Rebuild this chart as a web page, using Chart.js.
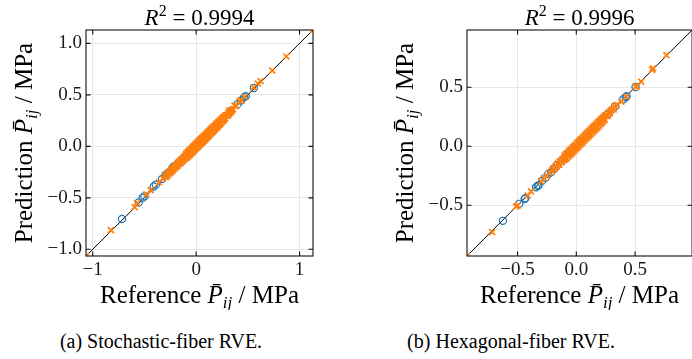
<!DOCTYPE html>
<html><head><meta charset="utf-8">
<script src="https://cdn.jsdelivr.net/npm/chart.js@4"></script>
<style>
html,body{margin:0;padding:0;background:#fff;overflow:hidden;width:692px;height:359px;}
#wrapA{position:absolute;left:0;top:0;width:346px;height:310px;}
#wrapB{position:absolute;left:346px;top:0;width:352px;height:310px;}
.cap{position:absolute;top:331px;font-family:'Liberation Serif',serif;font-size:20px;line-height:20px;white-space:nowrap;transform:translateX(-50%);color:#000;}
</style></head><body>
<div id="wrapA"><canvas id="cA" width="346" height="310"></canvas></div>
<div id="wrapB"><canvas id="cB" width="352" height="310"></canvas></div>
<div class="cap" style="left:161px">(a) Stochastic-fiber RVE.</div>
<div class="cap" style="left:511px">(b) Hexagonal-fiber RVE.</div>
<script>
// ---------- data: (a) Stochastic-fiber RVE ----------
const titleA = '0.9994';
const limA = [-1.065, 1.13];
const ticksAX = [-1, 0, 1];
const tickLabelsAX = ['\u22121', '0', '1'];
const ticksAY = [-1.0, -0.5, 0.0, 0.5, 1.0];
const tickLabelsAY = ['\u22121.0', '\u22120.5', '0.0', '0.5', '1.0'];

const refA_blue  = [-0.717,-0.556,-0.517,-0.500,-0.410,-0.390,-0.330,-0.297,-0.275,-0.249,-0.230,-0.217,-0.180,-0.150,-0.110,-0.060,-0.020,0.030,0.080,0.140,0.200,0.260,0.330,0.400,0.436,0.465,0.480,0.558];
const predA_blue = [-0.705,-0.545,-0.500,-0.485,-0.390,-0.372,-0.318,-0.278,-0.262,-0.240,-0.212,-0.196,-0.172,-0.140,-0.104,-0.052,-0.014,0.036,0.085,0.146,0.206,0.268,0.338,0.410,0.445,0.478,0.486,0.566];

const refA_orange_main  = [-1.065,-0.824,-0.595,-0.572,-0.480,-0.440,-0.360,-0.320,-0.285,-0.262,-0.240,-0.222,-0.205,-0.190,-0.175,
  -0.160,-0.150,-0.142,-0.130,-0.122,-0.110,-0.100,-0.092,-0.080,-0.072,-0.062,-0.055,-0.045,-0.038,-0.028,-0.020,-0.012,-0.005,
  0.004,0.010,0.018,0.025,0.033,0.040,0.048,0.055,0.062,0.070,0.078,0.085,0.092,0.100,0.108,0.115,0.122,0.130,0.138,0.145,
  0.152,0.160,0.168,0.175,0.182,0.190,0.198,0.205,0.214,0.222,0.232,0.240,0.250,0.260,0.270,0.280,0.292,0.305,0.318,0.323,
  0.340,0.371,0.385,0.420,0.440,0.468,0.555,0.597,0.623,0.736,0.872,1.13];
const predA_orange_main = [-1.065,-0.814,-0.590,-0.550,-0.467,-0.425,-0.350,-0.312,-0.270,-0.255,-0.228,-0.218,-0.190,-0.185,-0.160,
  -0.152,-0.158,-0.128,-0.135,-0.110,-0.118,-0.088,-0.100,-0.068,-0.080,-0.050,-0.064,-0.030,-0.046,-0.014,-0.030,0.002,-0.015,
  0.018,-0.004,0.032,0.010,0.046,0.026,0.060,0.040,0.075,0.055,0.090,0.070,0.104,0.086,0.120,0.100,0.134,0.116,0.148,0.132,
  0.162,0.146,0.178,0.162,0.192,0.178,0.206,0.194,0.222,0.212,0.240,0.230,0.258,0.250,0.278,0.272,0.300,0.300,0.330,0.350,
  0.345,0.395,0.390,0.440,0.448,0.480,0.572,0.610,0.634,0.735,0.873,1.13];
const refA_orange_hi  = [-0.098,-0.086,-0.074,-0.062,-0.050,-0.038,-0.026,-0.014,-0.002,0.010,0.022,0.034,0.046,0.058,0.070,0.082,0.094,0.106,0.118,0.130,0.142,0.154,0.166,0.178,0.190,0.202,0.214,0.226,0.238,0.250,0.262,0.274,0.286];
const predA_orange_hi = [-0.073,-0.060,-0.049,-0.036,-0.027,-0.013,0.000,0.011,0.024,0.034,0.048,0.058,0.072,0.082,0.096,0.105,0.119,0.130,0.143,0.153,0.167,0.177,0.190,0.200,0.213,0.224,0.236,0.246,0.259,0.270,0.281,0.292,0.303];
const refA_orange_lo  = [-0.092,-0.080,-0.068,-0.056,-0.044,-0.032,-0.020,-0.008,0.004,0.016,0.028,0.040,0.052,0.064,0.076,0.088,0.100,0.112,0.124,0.136,0.148,0.160,0.172,0.184,0.196,0.208,0.220,0.232,0.244,0.256,0.268,0.280];
const predA_orange_lo = [-0.112,-0.101,-0.088,-0.078,-0.064,-0.053,-0.040,-0.029,-0.016,-0.005,0.008,0.019,0.032,0.043,0.056,0.067,0.080,0.092,0.105,0.117,0.130,0.142,0.155,0.167,0.180,0.192,0.205,0.218,0.231,0.244,0.257,0.270];
const refA_orange_tails  = [-0.300,-0.292,-0.284,-0.276,-0.268,-0.258,-0.250,-0.244,-0.236,-0.228,-0.220,-0.212,-0.204,-0.196,-0.188,-0.180,-0.172,-0.166,-0.158,-0.150,-0.144,-0.136,-0.128,-0.120,-0.112,-0.106,
  0.296,0.304,0.312,0.318,0.328,0.334,0.346,0.358];
const predA_orange_tails = [-0.292,-0.300,-0.278,-0.282,-0.258,-0.264,-0.240,-0.250,-0.226,-0.236,-0.210,-0.220,-0.196,-0.204,-0.178,-0.190,-0.162,-0.174,-0.146,-0.162,-0.134,-0.146,-0.116,-0.132,-0.100,-0.118,
  0.306,0.296,0.322,0.312,0.338,0.330,0.352,0.362];

// ---------- data: (b) Hexagonal-fiber RVE ----------
const titleB = '0.9996';
const limB = [-0.93, 0.985];
const ticksBX = [-0.5, 0.0, 0.5];
const tickLabelsBX = ['\u22120.5', '0.0', '0.5'];
const ticksBY = [-0.5, 0.0, 0.5];
const tickLabelsBY = ['\u22120.5', '0.0', '0.5'];

const refB_blue  = [-0.625,-0.485,-0.440,-0.434,-0.343,-0.330,-0.320,-0.290,-0.262,-0.240,-0.215,-0.190,-0.160,-0.110,-0.060,-0.010,0.040,0.090,0.150,0.210,0.270,0.330,0.400,0.420,0.428,0.504];
const predB_blue = [-0.632,-0.488,-0.448,-0.440,-0.347,-0.336,-0.330,-0.292,-0.268,-0.236,-0.220,-0.192,-0.158,-0.112,-0.056,-0.008,0.044,0.092,0.154,0.214,0.276,0.336,0.398,0.415,0.424,0.502];

const refB_orange_main  = [-0.930,-0.716,-0.513,-0.500,-0.414,-0.386,-0.300,-0.275,-0.250,-0.228,-0.208,-0.190,-0.175,
  -0.160,-0.150,-0.140,-0.130,-0.120,-0.110,-0.100,-0.090,-0.080,-0.070,-0.060,-0.050,-0.040,-0.030,-0.020,-0.010,
  0.000,0.010,0.020,0.030,0.040,0.050,0.060,0.070,0.080,0.090,0.100,0.110,0.120,0.130,0.140,0.150,0.160,0.170,0.180,0.190,
  0.200,0.212,0.224,0.236,0.250,0.265,0.280,0.298,0.326,0.345,0.383,0.425,0.504,0.515,0.552,0.645,0.652,0.766];
const predB_orange_main = [-0.930,-0.728,-0.511,-0.504,-0.417,-0.383,-0.298,-0.270,-0.252,-0.224,-0.206,-0.186,-0.172,
  -0.150,-0.158,-0.130,-0.136,-0.110,-0.116,-0.090,-0.096,-0.070,-0.078,-0.050,-0.058,-0.030,-0.038,-0.010,-0.018,
  0.010,0.002,0.030,0.022,0.050,0.042,0.070,0.062,0.090,0.082,0.110,0.102,0.128,0.122,0.148,0.142,0.168,0.162,0.188,0.184,
  0.206,0.208,0.230,0.234,0.256,0.262,0.286,0.307,0.340,0.350,0.377,0.420,0.505,0.508,0.548,0.647,0.660,0.772];
const refB_orange_hi  = [-0.100,-0.088,-0.076,-0.064,-0.052,-0.040,-0.028,-0.016,-0.004,0.008,0.020,0.032,0.044,0.056,0.068,0.080,0.092,0.104,0.116,0.128,0.140,0.152,0.164,0.176,0.188,0.200,0.212,0.224,0.236,0.248];
const predB_orange_hi = [-0.080,-0.067,-0.057,-0.044,-0.033,-0.020,-0.009,0.004,0.015,0.028,0.039,0.052,0.063,0.076,0.087,0.100,0.111,0.124,0.135,0.148,0.159,0.171,0.182,0.195,0.206,0.218,0.229,0.241,0.252,0.263];
const refB_orange_lo  = [-0.094,-0.082,-0.070,-0.058,-0.046,-0.034,-0.022,-0.010,0.002,0.014,0.026,0.038,0.050,0.062,0.074,0.086,0.098,0.110,0.122,0.134,0.146,0.158,0.170,0.182,0.194,0.206,0.218,0.230,0.242];
const predB_orange_lo = [-0.112,-0.101,-0.089,-0.078,-0.065,-0.054,-0.041,-0.030,-0.017,-0.006,0.007,0.018,0.031,0.042,0.055,0.066,0.079,0.090,0.103,0.114,0.127,0.138,0.151,0.162,0.175,0.187,0.200,0.212,0.225];
const refB_orange_tails  = [-0.196,-0.186,-0.176,-0.166,-0.156,-0.146,-0.136,-0.126,-0.116,-0.108,0.256,0.264,0.272,0.284,0.292,0.310,0.318];
const predB_orange_tails = [-0.188,-0.194,-0.168,-0.174,-0.146,-0.156,-0.126,-0.136,-0.106,-0.118,0.264,0.256,0.282,0.278,0.300,0.316,0.312];

// ---------- rendering ----------
const SERIF = "'Liberation Serif', serif";
const BLUE = '#1f77b4', ORANGE = '#ff7f0e';

function pts(xs, ys){ return xs.map((x,i)=>({x:x, y:ys[i]})); }

function drawRich(ctx, segs, x, y){
  let total = 0;
  segs.forEach(s=>{ ctx.font = s.f; s.w = ctx.measureText(s.t).width; total += s.w; });
  let cx = x - total/2;
  ctx.textAlign = 'left'; ctx.textBaseline = 'alphabetic';
  segs.forEach(s=>{ ctx.font = s.f; ctx.fillText(s.t, cx, y + (s.dy||0)); cx += s.w; });
}
function axisLabel(word){
  return [
    {t: word + ' ', f: "25px " + SERIF},
    {t: 'P\u0304', f: "italic 25px " + SERIF},
    {t: 'ij', f: "italic 17px " + SERIF, dy: 5},
    {t: ' / MPa', f: "25px " + SERIF}
  ];
}

const deco = {
  id: 'deco',
  afterDraw(chart, args, o){
    const {ctx, chartArea:a, scales} = chart;
    ctx.save();
    ctx.strokeStyle = '#111'; ctx.lineWidth = 1.1;
    ctx.strokeRect(a.left, a.top, a.right - a.left, a.bottom - a.top);
    const L = 4.5;
    ctx.beginPath();
    o.xt.forEach(v=>{ const p = scales.x.getPixelForValue(v);
      ctx.moveTo(p, a.bottom); ctx.lineTo(p, a.bottom - L);
      ctx.moveTo(p, a.top); ctx.lineTo(p, a.top + L); });
    o.yt.forEach(v=>{ const p = scales.y.getPixelForValue(v);
      ctx.moveTo(a.left, p); ctx.lineTo(a.left + L, p);
      ctx.moveTo(a.right, p); ctx.lineTo(a.right - L, p); });
    ctx.stroke();
    ctx.fillStyle = '#000';
    const cx = (a.left + a.right)/2, cy = (a.top + a.bottom)/2;
    drawRich(ctx, [
      {t:'R', f:"italic 23px " + SERIF},
      {t:'2', f:"16px " + SERIF, dy:-9},
      {t:' = ' + o.title, f:"23px " + SERIF}
    ], cx, 25);
    drawRich(ctx, axisLabel('Reference'), cx, 303);
    ctx.translate(o.ylx, cy);
    ctx.rotate(-Math.PI/2);
    drawRich(ctx, axisLabel('Prediction'), 0, 0);
    ctx.restore();
  }
};

function makeChart(id, lim, rb, pb, ro, po, xt, xl, yt, yl, title, yw, padR, ylx){
  const tickFont = {family: SERIF, size: 19};
  return new Chart(document.getElementById(id), {
    type: 'scatter',
    data: { datasets: [
      { data: [{x:lim[0], y:lim[0]}, {x:lim[1], y:lim[1]}], showLine: true, borderColor: '#000', borderWidth: 1,
        pointRadius: 0, order: 3, clip: 0 },
      { data: pts(rb, pb), pointStyle: 'circle', pointRadius: 3.6, borderWidth: 1.2, borderColor: BLUE,
        backgroundColor: 'rgba(0,0,0,0)', order: 2, clip: 0 },
      { data: pts(ro, po), pointStyle: 'crossRot', pointRadius: 4.2, borderWidth: 1.7, borderColor: ORANGE,
        backgroundColor: ORANGE, order: 1, clip: 0 }
    ]},
    options: {
      responsive: false, animation: false, devicePixelRatio: 1,
      layout: { padding: {left: 0, top: 30, right: padR, bottom: 0} },
      plugins: { legend: {display: false}, tooltip: {enabled: false},
        deco: {xt: xt, yt: yt, title: title, ylx: ylx} },
      scales: {
        x: { type: 'linear', min: lim[0], max: lim[1],
          afterBuildTicks: s => { s.ticks = xt.map(v=>({value: v})); },
          afterFit: s => { s.height = 54; },
          ticks: { font: tickFont, color: '#1a1a1a', padding: 3, maxRotation: 0, autoSkip: false,
            callback: (v) => { const i = xt.indexOf(v); return i >= 0 ? xl[i] : ''; } },
          grid: { color: '#e6e6e6', lineWidth: 1, drawTicks: false },
          border: { display: false } },
        y: { type: 'linear', min: lim[0], max: lim[1],
          afterBuildTicks: s => { s.ticks = yt.map(v=>({value: v})); },
          afterFit: s => { s.width = yw; },
          ticks: { font: tickFont, color: '#1a1a1a', padding: 4, autoSkip: false,
            callback: (v) => { const i = yt.indexOf(v); return i >= 0 ? yl[i] : ''; } },
          grid: { color: '#e6e6e6', lineWidth: 1, drawTicks: false },
          border: { display: false } }
      }
    },
    plugins: [deco]
  });
}

makeChart('cA', limA, refA_blue, predA_blue,
  refA_orange_main.concat(refA_orange_hi, refA_orange_lo, refA_orange_tails),
  predA_orange_main.concat(predA_orange_hi, predA_orange_lo, predA_orange_tails),
  ticksAX, tickLabelsAX, ticksAY, tickLabelsAY, titleA, 86, 33, 32);
makeChart('cB', limB, refB_blue, predB_blue,
  refB_orange_main.concat(refB_orange_hi, refB_orange_lo, refB_orange_tails),
  predB_orange_main.concat(predB_orange_hi, predB_orange_lo, predB_orange_tails),
  ticksBX, tickLabelsBX, ticksBY, tickLabelsBY, titleB, 121, 4.4, 67);
</script>
</body></html>
